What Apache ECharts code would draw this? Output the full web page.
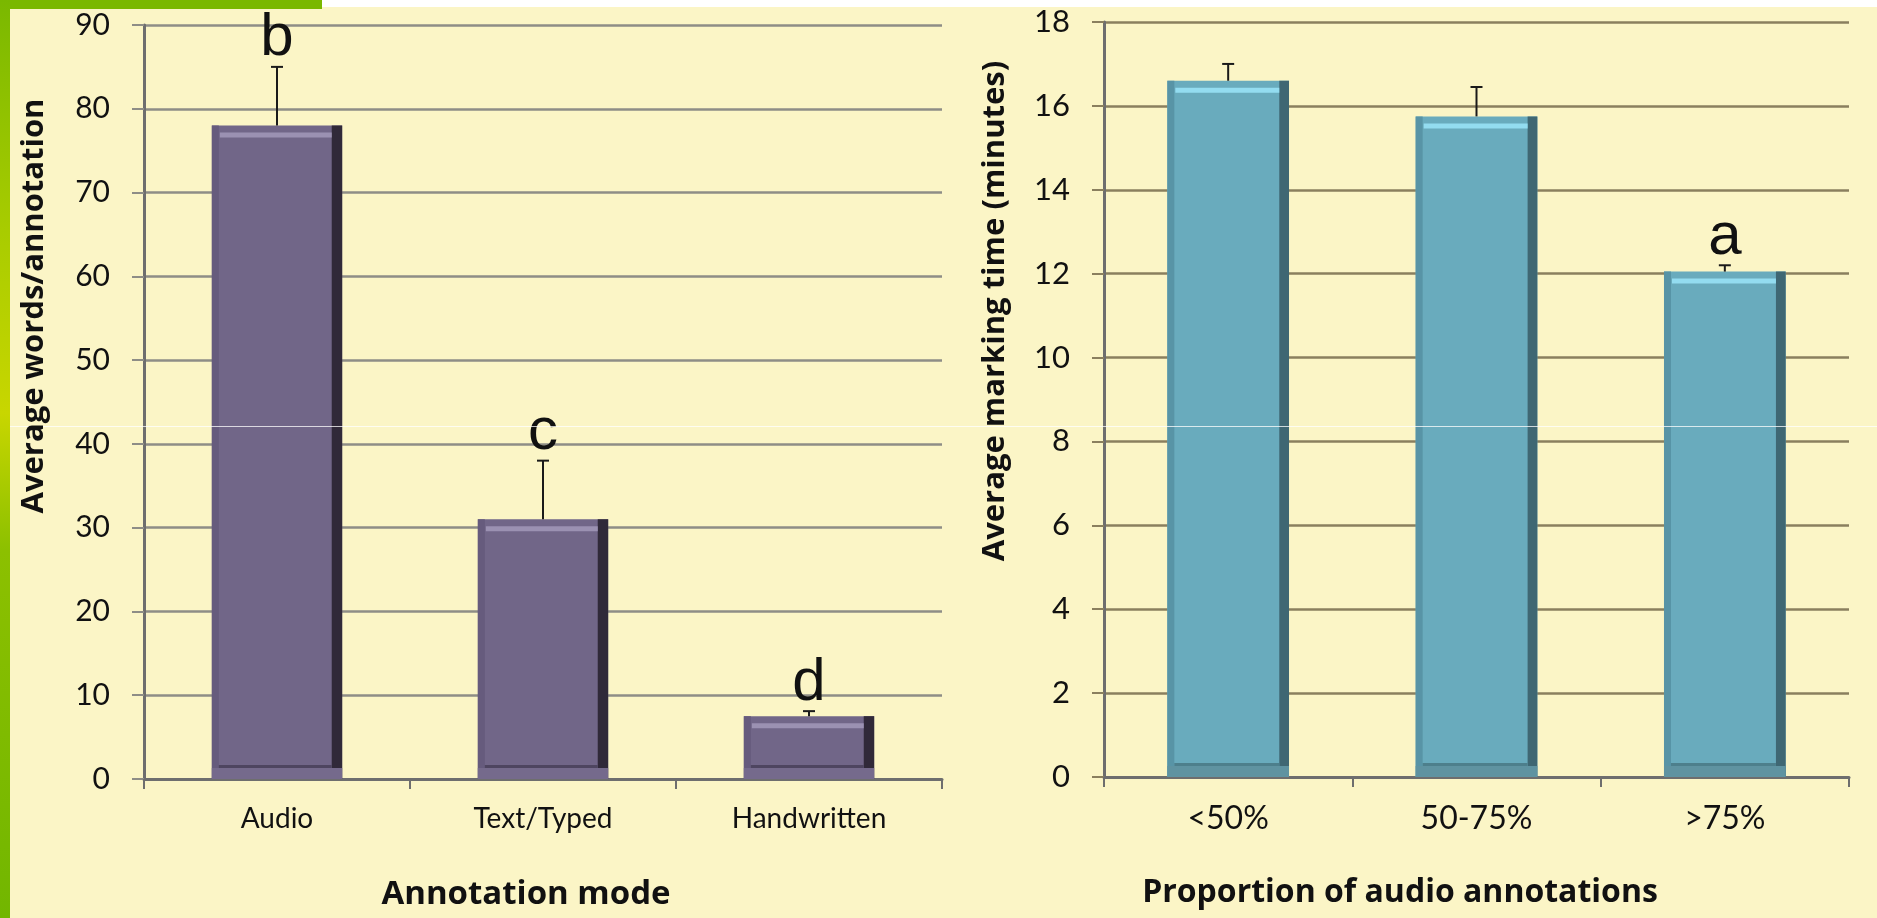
<!DOCTYPE html>
<html><head><meta charset="utf-8">
<script src="https://cdn.jsdelivr.net/npm/echarts@6/dist/echarts.min.js"></script>
<style>html,body{margin:0;padding:0;background:#fbf5c6}#c{width:1877px;height:918px}</style>
</head><body><div id="c"></div>
<script>
// ---- data (left chart) ----
const modeCategories = ['Audio', 'Text/Typed', 'Handwritten'];
const wordsMean = [78, 31, 7.5];
const wordsErrTop = [85, 38, 8.1];
const wordsLetters = ['b', 'c', 'd'];
const wordsAxisRange = [0, 90, 10];   // min, max, interval
// ---- data (right chart) ----
const proportionCategories = ['<50%', '50-75%', '>75%'];
const timeMean = [16.6, 15.75, 12.05];
const timeErrTop = [17.0, 16.45, 12.2];
const timeLetters = ['', '', 'a'];
const timeAxisRange = [0, 18, 2];

const chart = echarts.init(document.getElementById('c'));
const FONT = 'Lato';

function bar3d(c) {
  return function (params, api) {
    const i = api.value(0), v = api.value(1);
    const top = api.coord([i, v]);
    const base = api.coord([i, 0]);
    const band = api.size([1, 0])[0];
    const w = band * 0.49;
    const x0 = top[0] - w / 2, y0 = top[1], h = base[1] - top[1];
    const side = Math.max(9, w * 0.08);
    return {
      type: 'group',
      children: [
        { type: 'rect', shape: { x: x0, y: y0, width: w, height: h }, style: { fill: c.main } },
        { type: 'rect', shape: { x: x0, y: y0, width: 7, height: h }, style: { fill: c.left } },
        { type: 'rect', shape: { x: x0 + w - side, y: y0, width: side, height: h }, style: { fill: c.side } },
        { type: 'rect', shape: { x: x0 + 8, y: y0 + 7, width: w - side - 8, height: Math.min(5, h) }, style: { fill: c.hi } },
        { type: 'rect', shape: { x: x0 + 7, y: base[1] - 14, width: w - side - 7, height: 3 }, style: { fill: c.bline } },
        { type: 'rect', shape: { x: x0, y: base[1] - 11, width: w, height: 11 }, style: { fill: c.bottom } }
      ]
    };
  };
}

function errBar(letters) {
  return function (params, api) {
    const i = api.value(0);
    const p0 = api.coord([i, api.value(1)]);
    const p1 = api.coord([i, api.value(2)]);
    const cap = 6;
    const ch = [
      { type: 'line', shape: { x1: p0[0], y1: p0[1], x2: p1[0], y2: p1[1] }, style: { stroke: '#1a1a1a', lineWidth: 2 } },
      { type: 'line', shape: { x1: p1[0] - cap, y1: p1[1], x2: p1[0] + cap, y2: p1[1] }, style: { stroke: '#1a1a1a', lineWidth: 2 } }
    ];
    const L = letters[params.dataIndex];
    if (L) ch.push({ type: 'text', x: p1[0], y: p1[1] + 2, style: { text: L, fill: '#111', font: '60px "Liberation Sans"', align: 'center', verticalAlign: 'bottom' } });
    return { type: 'group', children: ch };
  };
}

const purple = { main: '#716688', left: '#665b7d', side: '#302939', hi: '#9b91b2', bline: '#4e4560', bottom: '#756a8c' };
const teal = { main: '#69abbd', left: '#5894a6', side: '#3f6773', hi: '#93dcf0', bline: '#4d7f8c', bottom: '#5f93a1' };

function xAx(idx, cats, size) {
  return {
    type: 'category', gridIndex: idx, data: cats,
    axisLine: { lineStyle: { color: '#6e6e6e', width: 3 } },
    axisTick: { show: true, length: 10, lineStyle: { color: '#6e6e6e', width: 2 } },
    axisLabel: { fontFamily: FONT, fontSize: size, color: '#111', margin: 26 }
  };
}
function yAx(idx, range, size, gridColor) {
  return {
    type: 'value', gridIndex: idx, min: range[0], max: range[1], interval: range[2],
    axisLine: { show: true, lineStyle: { color: '#6e6e6e', width: 3 } },
    axisTick: { show: true, length: 12, lineStyle: { color: gridColor, width: 2 } },
    axisLabel: { fontFamily: FONT, fontSize: size, color: '#111', margin: 34 },
    splitLine: { lineStyle: { color: gridColor, width: 2.5 } }
  };
}

chart.setOption({
  backgroundColor: '#fbf5c6',
  animation: false,
  grid: [
    { left: 144, top: 25, width: 798, height: 754 },
    { left: 1104, top: 22, width: 745, height: 755 }
  ],
  xAxis: [xAx(0, modeCategories, 28), xAx(1, proportionCategories, 32)],
  yAxis: [yAx(0, wordsAxisRange, 30, '#8e8d86'), yAx(1, timeAxisRange, 31, '#8a7f5e')],
  series: [
    { type: 'custom', xAxisIndex: 0, yAxisIndex: 0, renderItem: bar3d(purple), data: wordsMean.map((v, i) => [i, v]), z: 3 },
    { type: 'custom', xAxisIndex: 0, yAxisIndex: 0, renderItem: errBar(wordsLetters), data: wordsMean.map((v, i) => [i, v, wordsErrTop[i]]), z: 4 },
    { type: 'custom', xAxisIndex: 1, yAxisIndex: 1, renderItem: bar3d(teal), data: timeMean.map((v, i) => [i, v]), z: 3 },
    { type: 'custom', xAxisIndex: 1, yAxisIndex: 1, renderItem: errBar(timeLetters), data: timeMean.map((v, i) => [i, v, timeErrTop[i]]), z: 4 }
  ],
  graphic: [
    { type: 'rect', z: 100, shape: { x: 0, y: 0, width: 10, height: 918 },
      style: { fill: new echarts.graphic.LinearGradient(0, 0, 0, 1, [
        { offset: 0, color: '#7ab800' }, { offset: 0.25, color: '#a8cc00' }, { offset: 0.45, color: '#c8d600' },
        { offset: 0.6, color: '#8cc000' }, { offset: 1, color: '#72b600' }]) } },
    { type: 'rect', z: 100, shape: { x: 10, y: 0, width: 312, height: 9 }, style: { fill: '#7ab800' } },
    { type: 'rect', z: 100, shape: { x: 322, y: 0, width: 1555, height: 7 }, style: { fill: '#ffffff' } },
    { type: 'rect', z: 100, shape: { x: 10, y: 426, width: 1867, height: 1 }, style: { fill: 'rgba(255,255,255,0.75)' } },
    { type: 'text', z: 100, x: 34, y: 306, rotation: Math.PI / 2,
      style: { text: 'Average words/annotation', font: 'bold 31px "Open Sans"', fill: '#111', align: 'center', verticalAlign: 'middle' } },
    { type: 'text', z: 100, x: 995, y: 311, rotation: Math.PI / 2,
      style: { text: 'Average marking time (minutes)', font: 'bold 31px "Open Sans"', fill: '#111', align: 'center', verticalAlign: 'middle' } },
    { type: 'text', z: 100, x: 526, y: 895,
      style: { text: 'Annotation mode', font: 'bold 33px "Open Sans"', fill: '#111', align: 'center', verticalAlign: 'middle' } },
    { type: 'text', z: 100, x: 1400, y: 893,
      style: { text: 'Proportion of audio annotations', font: 'bold 32px "Open Sans"', fill: '#111', align: 'center', verticalAlign: 'middle' } }
  ]
});
</script></body></html>
